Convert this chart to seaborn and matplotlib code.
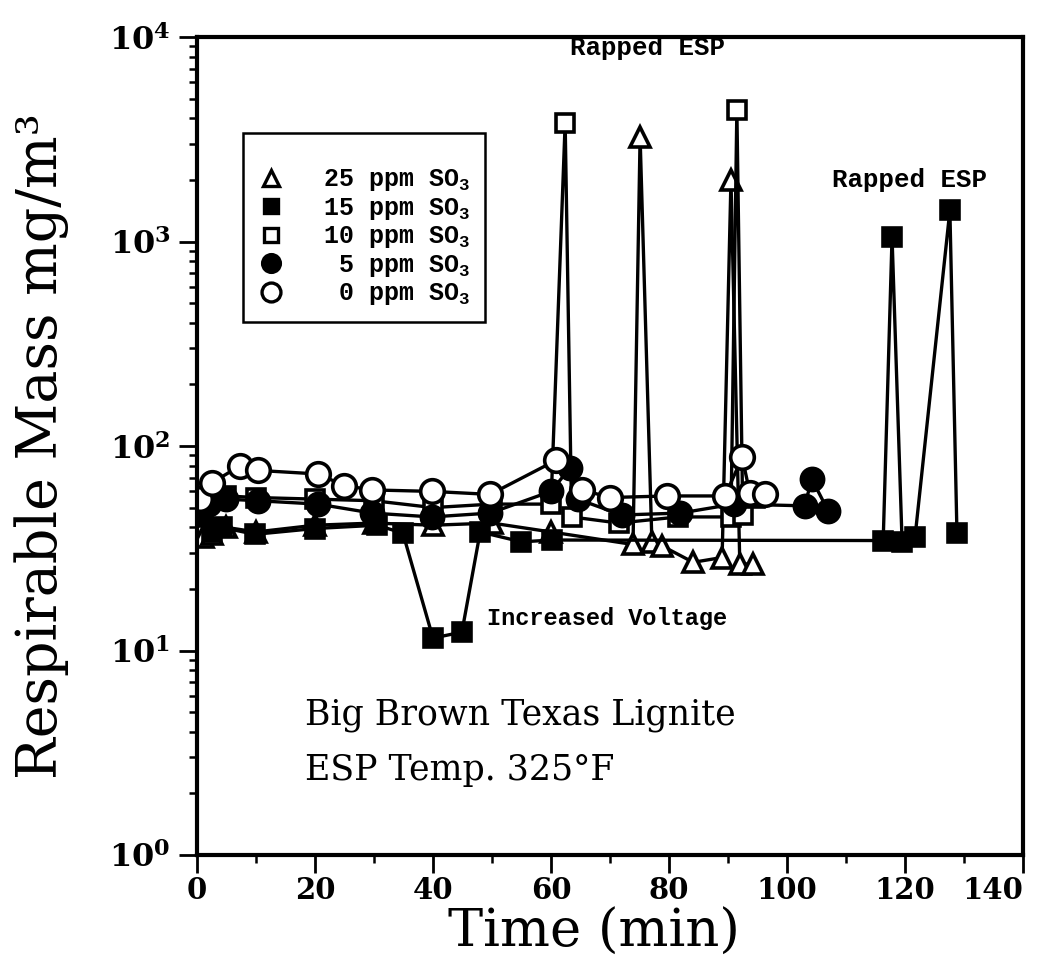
import numpy as np
import pandas as pd
import seaborn as sns
from matplotlib import pyplot as plt
from matplotlib.lines import Line2D

# --- data (time in min, respirable mass in mg/m3)
t_25 = [1, 2.5, 5, 10, 20, 30, 40, 50, 60, 73.9, 75.1, 77.1, 78.8, 84.1, 89, 90.5, 92, 94.2]
m_25 = [36, 37, 40, 38, 41, 42, 41, 42, 38, 33, 3250, 34, 32.5, 27, 28.5, 2000, 26.5, 26.5]

t_15 = [1, 2.5, 4.2, 9.8, 20, 30.5, 34.9, 40, 44.9, 48, 55, 60.2,
        116.3, 117.8, 119.5, 121.7, 127.6, 128.8]
m_15 = [45, 38, 40, 37, 39.5, 41, 37.5, 11.5, 12.3, 38, 34, 34.7,
        34.5, 1050, 34, 36, 1420, 37.5]

t_10 = [0.5, 5, 10, 20, 30, 40, 50, 60, 62.4, 63.5, 71.5, 81.5, 90.5, 91.5, 92.5, 94.5]
m_10 = [55, 57, 56, 55, 54, 50, 52, 52, 3800, 45, 42, 45, 45, 4400, 46, 56]

t_5 = [0.5, 2, 5, 10.3, 20.5, 29.7, 39.8, 49.7, 60, 63.2, 64.5, 72, 81.9, 91, 103, 104.2, 107]
m_5 = [48, 52, 55, 54, 52, 47, 45, 47, 60, 78, 55, 46, 47, 52, 51, 69, 48]

t_0 = [0.5, 2.5, 7.3, 10.3, 20.5, 25, 29.7, 39.8, 49.7, 60.8, 65.3, 70, 79.7, 89.5, 92.4, 93.7, 96.3]
m_0 = [55, 66, 80, 76, 73, 64, 61, 60, 58, 85, 61, 56, 57, 57, 88, 59, 58]

series_labels = ["25 ppm SO$_\\mathregular{3}$", "15 ppm SO$_\\mathregular{3}$",
                 "10 ppm SO$_\\mathregular{3}$", " 5 ppm SO$_\\mathregular{3}$",
                 " 0 ppm SO$_\\mathregular{3}$"]

sns.set_style("ticks")
plt.rcParams["font.family"] = "DejaVu Serif"
plt.rcParams["text.color"] = "black"
plt.rcParams["axes.labelcolor"] = "black"
plt.rcParams["xtick.color"] = "black"
plt.rcParams["ytick.color"] = "black"

fig = plt.figure(figsize=(10.51, 9.76), dpi=100)
ax = fig.add_axes([0.1874, 0.124, 0.786, 0.838])

# marker styles: (marker, size, face)
styles = [
    ("^", 15, "white"),
    ("s", 13, "black"),
    ("s", 13, "white"),
    ("o", 16, "black"),
    ("o", 17, "white"),
]
all_t = [t_25, t_15, t_10, t_5, t_0]
all_m = [m_25, m_15, m_10, m_5, m_0]

for tt, mm, (mk, ms, fc) in zip(all_t, all_m, styles):
    df = pd.DataFrame({"time": tt, "mass": mm})
    sns.lineplot(data=df, x="time", y="mass", ax=ax, sort=False, estimator=None,
                 color="black", linewidth=2.4, marker=mk, markersize=ms,
                 markerfacecolor=fc, markeredgecolor="black", markeredgewidth=2.6)

ax.set_yscale("log")
ax.set_xlim(0, 140)
ax.set_ylim(1, 1e4)
ax.set_xticks(np.arange(0, 141, 20))
ax.set_xticks(np.arange(10, 141, 20), minor=True)
ax.set_xticklabels([str(v) for v in range(0, 141, 20)], fontsize=21, fontweight="bold")
ax.get_xticklabels()[-1].set_horizontalalignment("right")
ax.set_yticks([1, 10, 100, 1000, 10000],
              labels=["$\\mathregular{10^{%d}}$" % k for k in range(5)],
              fontsize=23, fontweight="bold")
ax.tick_params(which="major", direction="out", length=13, width=2, pad=6)
ax.tick_params(axis="x", which="major", pad=2)
ax.tick_params(which="minor", direction="out", length=6, width=1.8)
for sp in ax.spines.values():
    sp.set_linewidth(3)
    sp.set_color("black")

ax.set_xlabel("Time (min)", fontsize=38)
ax.set_ylabel("Respirable Mass mg/m³", fontsize=40)
ax.xaxis.set_label_coords(0.48, -0.064)
ax.yaxis.set_label_coords(-0.155, 0.5)

mono = dict(family="Liberation Mono", weight="bold")
ax.text(76.4, 8800, "Rapped ESP", ha="center", va="center", fontsize=18.5, **mono)
ax.text(120.8, 2000, "Rapped ESP", ha="center", va="center", fontsize=18.5, **mono)
ax.text(49.2, 14.4, "Increased Voltage", ha="left", va="center", fontsize=17, **mono)

ax.text(18.3, 4.84, "Big Brown Texas Lignite", ha="left", va="center", fontsize=25)
ax.text(18.3, 2.6, "ESP Temp. 325°F", ha="left", va="center", fontsize=25)

handles = [Line2D([], [], linestyle="none", marker=mk, markersize=ms * 0.8,
                  markerfacecolor=fc, markeredgecolor="black", markeredgewidth=2.4)
           for mk, ms, fc in styles]
leg = ax.legend(handles, series_labels, loc="upper left", bbox_to_anchor=(0.056, 0.883),
                borderaxespad=0, frameon=True, fancybox=False, edgecolor="black",
                prop=dict(family="Liberation Mono", weight="bold", size=18),
                title=" ", title_fontsize=12, labelspacing=0.1, handlelength=1.0,
                handletextpad=1.6, borderpad=0.6)
leg.get_frame().set_linewidth(1.8)
leg.get_frame().set_alpha(1)

fig.savefig("out.png", dpi=100)
